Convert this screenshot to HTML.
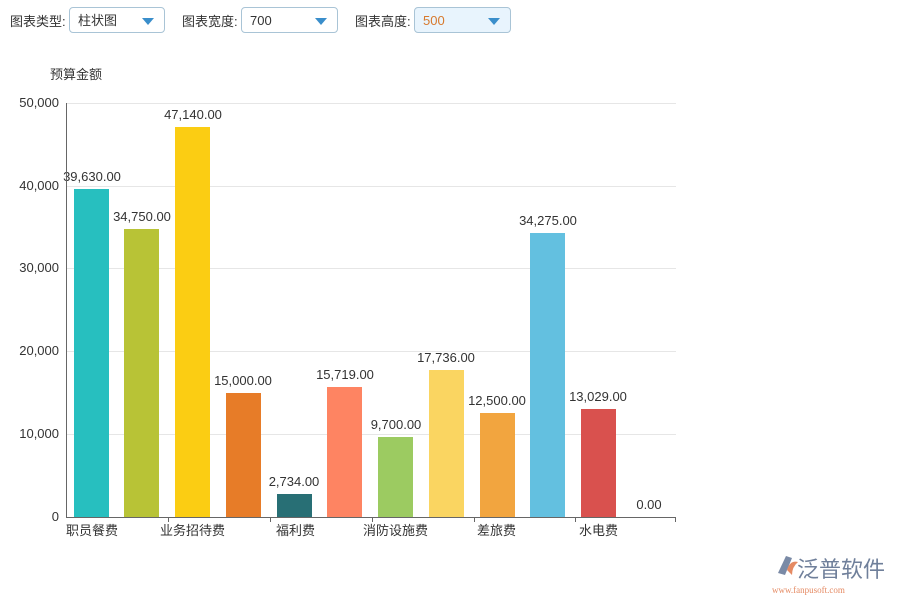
<!DOCTYPE html>
<html><head><meta charset="utf-8"><style>
body{margin:0;width:900px;height:600px;background:#fff;font-family:"Liberation Sans","Noto Sans CJK SC",sans-serif;position:relative;overflow:hidden;color:#333}
.lbl{position:absolute;top:11px;font-size:13px;color:#333}
.sel{position:absolute;top:7px;height:26px;border:1px solid #a9c4d6;border-radius:4px;background:#fff;font-size:13px;line-height:26px;padding-left:8px;box-sizing:border-box}
.sel:after{content:"";position:absolute;right:10px;top:10px;border-left:6px solid transparent;border-right:6px solid transparent;border-top:7px solid #3a8ecb}
</style></head><body>
<div class="lbl" style="left:10px">图表类型:</div>
<div class="sel" style="left:69px;width:96px">柱状图</div>
<div class="lbl" style="left:182px">图表宽度:</div>
<div class="sel" style="left:241px;width:97px">700</div>
<div class="lbl" style="left:355px">图表高度:</div>
<div class="sel" style="left:414px;width:97px;background:#e8f4fd;color:#d77a2e">500</div>
<svg width="900" height="600" style="position:absolute;left:0;top:0" font-family="Liberation Sans, Noto Sans CJK SC, sans-serif">
<text x="50" y="79" font-size="13" fill="#333">预算金额</text>
<g stroke="#e6e6e6">
<line x1="66" x2="676" y1="103.5" y2="103.5"/><line x1="66" x2="676" y1="186.5" y2="186.5"/><line x1="66" x2="676" y1="268.5" y2="268.5"/><line x1="66" x2="676" y1="351.5" y2="351.5"/><line x1="66" x2="676" y1="434.5" y2="434.5"/>
</g>
<g font-size="13" fill="#333" text-anchor="end">
<text x="59" y="107">50,000</text><text x="59" y="190">40,000</text><text x="59" y="272">30,000</text><text x="59" y="355">20,000</text><text x="59" y="438">10,000</text><text x="59" y="521">0</text>
</g>
<g>
<rect x="74" y="189" width="35" height="328" fill="#27bfbf"/>
<rect x="124" y="229" width="35" height="288" fill="#b8c336"/>
<rect x="175" y="127" width="35" height="390" fill="#fbcd13"/>
<rect x="226" y="393" width="35" height="124" fill="#e77c28"/>
<rect x="277" y="494" width="35" height="23" fill="#286f75"/>
<rect x="327" y="387" width="35" height="130" fill="#fe8462"/>
<rect x="378" y="437" width="35" height="80" fill="#9ccb61"/>
<rect x="429" y="370" width="35" height="147" fill="#fad561"/>
<rect x="480" y="413" width="35" height="104" fill="#f2a53f"/>
<rect x="530" y="233" width="35" height="284" fill="#63c0e0"/>
<rect x="581" y="409" width="35" height="108" fill="#d9514e"/>
</g>
<g font-size="13" fill="#333" text-anchor="middle">
<text x="92" y="181">39,630.00</text><text x="142" y="221">34,750.00</text><text x="193" y="119">47,140.00</text><text x="243" y="385">15,000.00</text><text x="294" y="486">2,734.00</text><text x="345" y="379">15,719.00</text><text x="396" y="429">9,700.00</text><text x="446" y="362">17,736.00</text><text x="497" y="405">12,500.00</text><text x="548" y="225">34,275.00</text><text x="598" y="401">13,029.00</text><text x="649" y="509">0.00</text>
</g>
<g stroke="#666"><line x1="66.5" x2="66.5" y1="103" y2="518"/><line x1="66" x2="676" y1="517.5" y2="517.5"/>
<line x1="168.5" x2="168.5" y1="517" y2="522"/><line x1="270.5" x2="270.5" y1="517" y2="522"/><line x1="372.5" x2="372.5" y1="517" y2="522"/><line x1="474.5" x2="474.5" y1="517" y2="522"/><line x1="575.5" x2="575.5" y1="517" y2="522"/><line x1="675.5" x2="675.5" y1="517" y2="522"/></g>
<g font-size="13" fill="#333">
<text x="66" y="535">职员餐费</text><text x="160" y="535">业务招待费</text><text x="276" y="535">福利费</text><text x="363" y="535">消防设施费</text><text x="477" y="535">差旅费</text><text x="579" y="535">水电费</text>
</g>
<path d="M778 573 L786 556 L792 558 L785 575 Z" fill="#7a8aa6"/>
<path d="M787 570 Q790 560 798 562 Q792 567 792 575 Z" fill="#e58a63"/>
<text x="797" y="577" font-size="22" fill="#6f7f9a">泛普软件</text>
<text x="772" y="593" font-size="9" fill="#e58a63" font-family="Liberation Serif, serif">www.fanpusoft.com</text>
</svg>
</body></html>
